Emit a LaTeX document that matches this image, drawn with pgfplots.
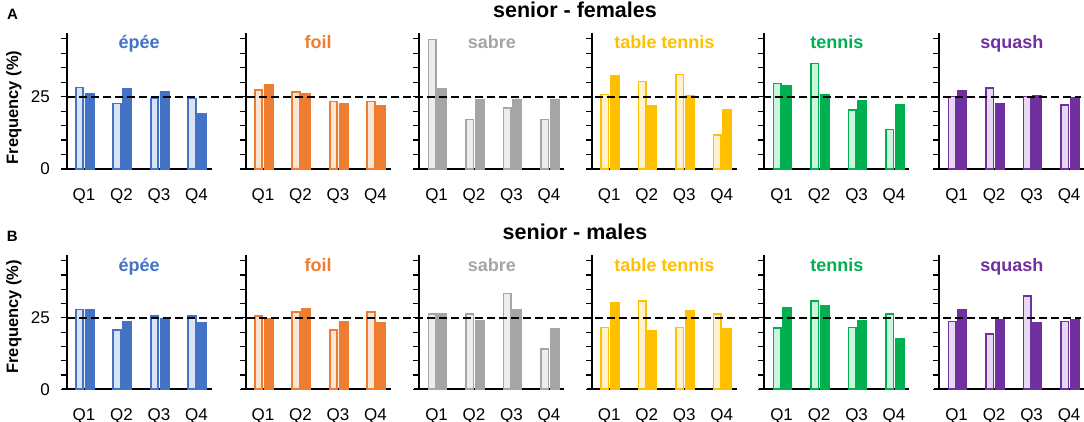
\documentclass[border=0pt]{standalone}
\usepackage{pgfplots}
\pgfplotsset{compat=1.18}
\usepackage{fontspec}
\setmainfont{Liberation Sans}
\definecolor{cA}{HTML}{4472C4}\definecolor{lA}{HTML}{DAE3F3}
\definecolor{cB}{HTML}{ED7D31}\definecolor{lB}{HTML}{FBE5D6}
\definecolor{cC}{HTML}{A5A5A5}\definecolor{lC}{HTML}{EDEDED}
\definecolor{cD}{HTML}{FFC000}\definecolor{lD}{HTML}{FFF2CC}
\definecolor{cE}{HTML}{00B050}\definecolor{lE}{HTML}{CCF5DD}
\definecolor{cF}{HTML}{7030A0}\definecolor{lF}{HTML}{E6D9F2}
\pgfplotsset{
  panel/.style={
    scale only axis, width=145pt, xmin=0.539, xmax=4.406, ymin=0, ymax=47,
    axis lines*=left, clip=false,
    axis line style={line width=1.8pt, black},
    x axis line style={shorten <=-5pt},
    xtick={1,2,3,4}, xticklabels={Q1,Q2,Q3,Q4},
    xtick style={draw=none},
    ytick={0,25}, yticklabels={0,25},
    minor ytick={5,10,15,20,30,35,40,45},
    tick align=outside, major tick length=6pt, minor tick length=6pt,
    ytick style={line width=1.2pt, black},
    minor tick style={line width=1.2pt, black},
    tick label style={font=\fontsize{17}{17}\selectfont},
    xticklabel style={inner sep=0pt, anchor=north, yshift=-13pt},
    yticklabel style={inner sep=0pt, anchor=east, xshift=-10.7pt},
    /pgf/number format/assume math mode=true,
  },
  noylab/.style={yticklabels={,}},
  firstcol/.style={},
  lightbar/.style={ybar, bar width=7.5pt, bar shift=-4.5pt, line width=1.6pt},
  darkbar/.style={ybar, bar width=9pt, bar shift=5.5pt, line width=0.8pt},
}
\newcommand\tshift{15.3}
% #1 x, #2 y, #3 height, #4 color, #5 light, #6 title, #7 light coords, #8 dark coords, #9 extra options
\newcommand\panel[9]{%
\begin{axis}[panel, at={(#1pt,#2pt)}, anchor=south west, height=#3pt, #9]
\addplot[lightbar, draw=#4, fill=#5] coordinates {#7};
\addplot[darkbar, draw=#4, fill=#4] coordinates {#8};
\node[anchor=base, text=#4, font=\fontsize{18}{18}\selectfont\bfseries] at (rel axis cs:0.5,1) [yshift=-\tshift pt] {#6};
\end{axis}}
\begin{document}
\begin{tikzpicture}
\path[use as bounding box] (0,0) rectangle (1084pt,422pt);
% ---- top row: senior - females
\renewcommand\tshift{15.3}
\panel{66.7}{253}{136}{cA}{lA}{épée}{(1,28.1) (2,22.6) (3,24.4) (4,24.4)}{(1,26.0) (2,27.8) (3,26.7) (4,19.2)}{firstcol}
\panel{245.7}{253}{136}{cB}{lB}{foil}{(1,27.4) (2,26.7) (3,23.3) (4,23.3)}{(1,29.1) (2,26.0) (3,22.6) (4,22.1)}{noylab}
\panel{419.3}{253}{136}{cC}{lC}{sabre}{(1,44.8) (2,17.1) (3,21.1) (4,17.1)}{(1,27.9) (2,24.0) (3,24.2) (4,24.2)}{noylab}
\panel{592}{253}{136}{cD}{lD}{table tennis}{(1,25.8) (2,30.2) (3,32.6) (4,11.8)}{(1,32.2) (2,22.1) (3,25.6) (4,20.5)}{noylab}
\panel{764.3}{253}{136}{cE}{lE}{tennis}{(1,29.5) (2,36.4) (3,20.4) (4,13.6)}{(1,28.9) (2,25.7) (3,23.7) (4,22.4)}{noylab}
\panel{939.3}{253}{136}{cF}{lF}{squash}{(1,25.0) (2,27.9) (3,25.0) (4,22.2)}{(1,27.3) (2,22.6) (3,25.5) (4,24.8)}{noylab}
% ---- bottom row: senior - males
\renewcommand\tshift{16.5}
\panel{66.7}{32.7}{134.3}{cA}{lA}{épée}{(1,27.9) (2,20.7) (3,25.7) (4,25.7)}{(1,27.9) (2,23.8) (3,24.8) (4,23.3)}{firstcol}
\panel{245.7}{32.7}{134.3}{cB}{lB}{foil}{(1,25.7) (2,27.0) (3,20.7) (4,27.0)}{(1,24.8) (2,28.3) (3,23.8) (4,23.3)}{noylab}
\panel{419.3}{32.7}{134.3}{cC}{lC}{sabre}{(1,26.3) (2,26.3) (3,33.5) (4,14.1)}{(1,26.7) (2,24.2) (3,27.9) (4,21.3)}{noylab}
\panel{592}{32.7}{134.3}{cD}{lD}{table tennis}{(1,21.6) (2,31.0) (3,21.6) (4,26.3)}{(1,30.5) (2,20.5) (3,27.7) (4,21.3)}{noylab}
\panel{764.3}{32.7}{134.3}{cE}{lE}{tennis}{(1,21.5) (2,31.0) (3,21.6) (4,26.3)}{(1,28.6) (2,29.5) (3,24.1) (4,17.9)}{noylab}
\panel{939.3}{32.7}{134.3}{cF}{lF}{squash}{(1,23.7) (2,19.4) (3,32.7) (4,23.7)}{(1,27.9) (2,24.4) (3,23.3) (4,24.4)}{noylab}
% reference lines at 25 %
\draw[black, line width=1.8pt, dash pattern=on 8pt off 4pt] (66.7pt,325.3pt) -- (1081pt,325.3pt);
\draw[black, line width=1.8pt, dash pattern=on 8pt off 4pt] (66.7pt,104.1pt) -- (1081pt,104.1pt);
% titles and labels
\node[anchor=base, font=\fontsize{21.5}{21.5}\selectfont\bfseries] at (575pt,404.7pt) {senior - females};
\node[anchor=base, font=\fontsize{21.5}{21.5}\selectfont\bfseries] at (575pt,182pt) {senior - males};
\node[anchor=base west, inner sep=0pt, font=\fontsize{15}{15}\selectfont\bfseries] at (7pt,402pt) {A};
\node[anchor=base west, inner sep=0pt, font=\fontsize{15}{15}\selectfont\bfseries] at (6.7pt,180.3pt) {B};
\node[anchor=base, rotate=90, inner sep=0pt, font=\fontsize{16.5}{16.5}\selectfont\bfseries] at (18pt,314.5pt) {Frequency (\%)};
\node[anchor=base, rotate=90, inner sep=0pt, font=\fontsize{16.5}{16.5}\selectfont\bfseries] at (18pt,105.3pt) {Frequency (\%)};
\end{tikzpicture}
\end{document}
